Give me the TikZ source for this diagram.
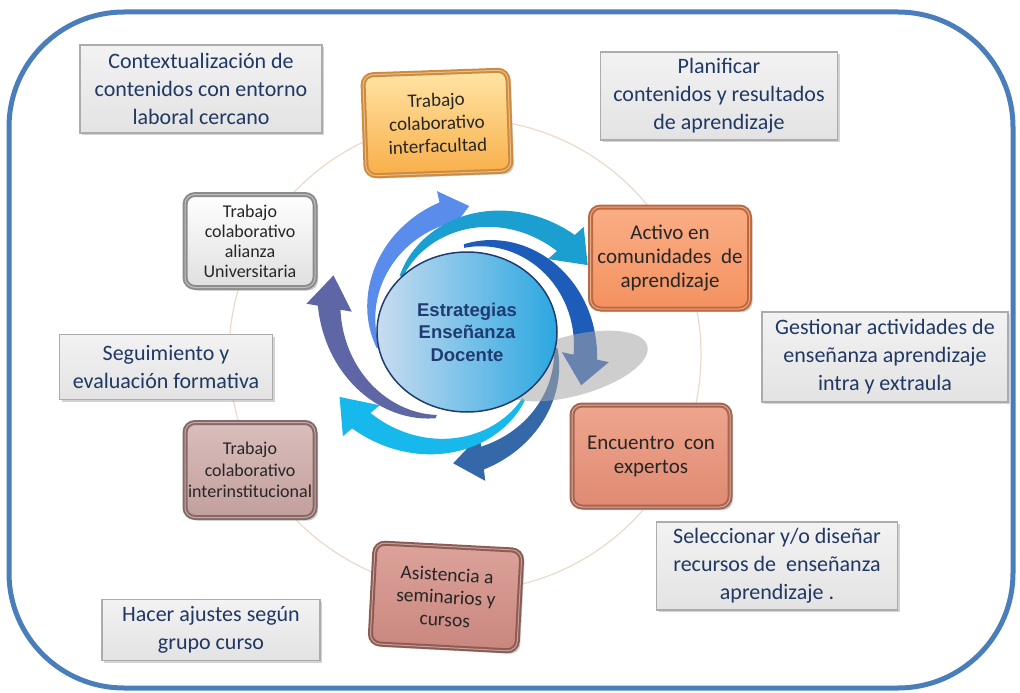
\documentclass[tikz,border=0pt]{standalone}
\usepackage{fontspec}
\setmainfont{Carlito}
\newfontfamily\hubfont{Liberation Sans}
\usetikzlibrary{shapes.geometric,shadows}

\definecolor{marcoazul}{HTML}{4A7EBB}
\definecolor{tinta}{HTML}{1F3864}
\definecolor{hubtinta}{HTML}{1F3B70}
\definecolor{hubclaro}{HTML}{C9DCF0}
\definecolor{huboscuro}{HTML}{2AA7E0}
\definecolor{anillo}{HTML}{EADBC8}
\definecolor{flecha1}{HTML}{5A8DEB}
\definecolor{flecha2}{HTML}{1B9FD0}
\definecolor{flecha3}{HTML}{1D5CB8}
\definecolor{flecha4}{HTML}{3568A8}
\definecolor{flecha5}{HTML}{17B8EC}
\definecolor{flecha6}{HTML}{5E66A6}
% box colours
\definecolor{amarilloA}{HTML}{FFE5A6}\definecolor{amarilloB}{HTML}{F8AE48}\definecolor{amarilloC}{HTML}{CF8A3A}
\definecolor{naranjaA}{HTML}{FAAE86}\definecolor{naranjaB}{HTML}{F4915F}\definecolor{naranjaC}{HTML}{C0683D}
\definecolor{salmonA}{HTML}{EFA58E}\definecolor{salmonB}{HTML}{E08A72}\definecolor{salmonC}{HTML}{A8644F}
\definecolor{malvaA}{HTML}{D9BEBC}\definecolor{malvaB}{HTML}{C29F9C}\definecolor{malvaC}{HTML}{876866}
\definecolor{rosaA}{HTML}{DCA39B}\definecolor{rosaB}{HTML}{C9867D}\definecolor{rosaC}{HTML}{8E5A52}

\tikzset{
  marco/.style={draw=marcoazul, line width=5pt, rounded corners=115pt},
  nota/.style={rectangle, draw=gray!65, line width=1.2pt, top color=gray!10, bottom color=gray!22,
    text=tinta, align=center, inner sep=2pt, font=\fontsize{22}{28}\selectfont,
    drop shadow={opacity=0.35, shadow xshift=2pt, shadow yshift=-2pt}},
  ficha/.style={rectangle, rounded corners=10pt, line width=5pt, align=center, inner sep=2pt,
    text=black!85, drop shadow={opacity=0.4, shadow xshift=3pt, shadow yshift=-3pt},
    postaction={draw=white, draw opacity=0.45, line width=1pt}},
  hub/.style={ellipse, draw=hubtinta, line width=1.5pt, left color=hubclaro,
    right color=huboscuro, text=hubtinta, align=center,
    font=\hubfont\bfseries\fontsize{18.5}{22.5}\selectfont},
}

\newcommand{\nota}[4]{\node at (#1) (#2) [nota, #3] {#4};}
\newcommand{\ficha}[4]{\node at (#1) (#2) [ficha, #3] {#4};}
% colour, start angle, end angle, start radius, end radius, width
\newcommand{\remolino}[6]{%
  \fill[#1]
    plot[domain=#2:#3, samples=40, variable=\t]
      ({467+(#4+(#5-#4)*((#2)-(\t))/((#2)-(#3))+0.5*#6*(0.15+0.85*((#2)-(\t))/((#2)-(#3))))*cos(\t)},
       {332-(#4+(#5-#4)*((#2)-(\t))/((#2)-(#3))+0.5*#6*(0.15+0.85*((#2)-(\t))/((#2)-(#3))))*sin(\t)})
    -- ({467+(#5+#6)*cos(#3)},{332-(#5+#6)*sin(#3)})
    -- ({467+(#5+5)*cos((#3)-13)},{332-(#5+5)*sin((#3)-13)})
    -- ({467+(#5-#6)*cos(#3)},{332-(#5-#6)*sin(#3)})
    -- plot[domain=#3:#2, samples=40, variable=\t]
      ({467+(#4+(#5-#4)*((#2)-(\t))/((#2)-(#3))-0.5*#6*(0.15+0.85*((#2)-(\t))/((#2)-(#3))))*cos(\t)},
       {332-(#4+(#5-#4)*((#2)-(\t))/((#2)-(#3))-0.5*#6*(0.15+0.85*((#2)-(\t))/((#2)-(#3))))*sin(\t)})
    -- cycle;}

\begin{document}
\begin{tikzpicture}[x=1pt, y=-1pt]

\useasboundingbox (0,0) rectangle (1020,693);
\draw[marco] (9,12) rectangle (1013,688);
\draw[anillo, line width=1.2pt] (465,355) circle (236);

% strategy boxes
\ficha {437,123}{interfacultad}{rotate=2, draw=amarilloC, top color=amarilloA, bottom color=amarilloB,
  minimum width=145, minimum height=101, font=\fontsize{19}{23}\selectfont}{Trabajo\\colaborativo\\interfacultad}
\ficha {250,241}{alianza}{draw=gray!90, top color=white, bottom color=gray!25,
  minimum width=130, minimum height=93, font=\fontsize{18}{20}\selectfont}{Trabajo\\colaborativo\\alianza\\Universitaria}
\ficha {670,258}{comunidades}{draw=naranjaC, top color=naranjaA, bottom color=naranjaB,
  minimum width=159, minimum height=102, font=\fontsize{21}{24}\selectfont}{Activo en\\comunidades~ de\\aprendizaje}
\ficha {651,456}{expertos}{draw=salmonC, top color=salmonA, bottom color=salmonB,
  minimum width=158, minimum height=102, font=\fontsize{21}{24}\selectfont}{Encuentro~ con\\expertos}
\ficha {250,470}{interinst}{draw=malvaC, top color=malvaA, bottom color=malvaB,
  minimum width=130, minimum height=95, font=\fontsize{18}{21.5}\selectfont}{Trabajo\\colaborativo\\interinstitucional}
\ficha {446,597}{seminarios}{rotate=-3, draw=rosaC, top color=rosaA, bottom color=rosaB,
  minimum width=147, minimum height=101, font=\fontsize{19.5}{22.5}\selectfont}{Asistencia a\\seminarios y\\cursos}

% teaching notes
\nota {201,89}{contexto}{minimum width=242, minimum height=88}{Contextualización de\\contenidos con entorno\\laboral cercano}
\nota {719,96}{planificar}{minimum width=237, minimum height=88}{Planificar\\contenidos y resultados\\de aprendizaje}
\nota {885,357}{gestionar}{minimum width=246, minimum height=90}{Gestionar actividades de\\enseñanza aprendizaje\\intra y extraula}
\nota {166,367}{seguimiento}{minimum width=213, minimum height=65}{Seguimiento y\\evaluación formativa}
\nota {777,566}{recursos}{minimum width=241, minimum height=88}{Seleccionar y/o diseñar\\recursos de~ enseñanza\\aprendizaje .}
\nota {211,630}{ajustes}{minimum width=218, minimum height=61}{Hacer ajustes según\\grupo curso}

% swirl
\remolino{flecha1}{190}{102}{90}{121}{23}
\remolino{flecha6}{-110}{-190}{90}{140}{23}
\remolino{flecha2}{140}{42}{86}{133}{24}
\remolino{flecha3}{92}{-12}{86}{121}{24}
\remolino{flecha4}{-10}{-83}{90}{127}{23}
\remolino{flecha5}{-50}{-140}{88}{138}{24}
\fill[gray!70, opacity=0.55, rotate around={15:(572,366)}] (572,366) ellipse (78 and 30);

\node[hub, minimum width=180, minimum height=160] (centro) at (467,332) {Estrategias\\Enseñanza\\Docente};

\end{tikzpicture}
\end{document}
